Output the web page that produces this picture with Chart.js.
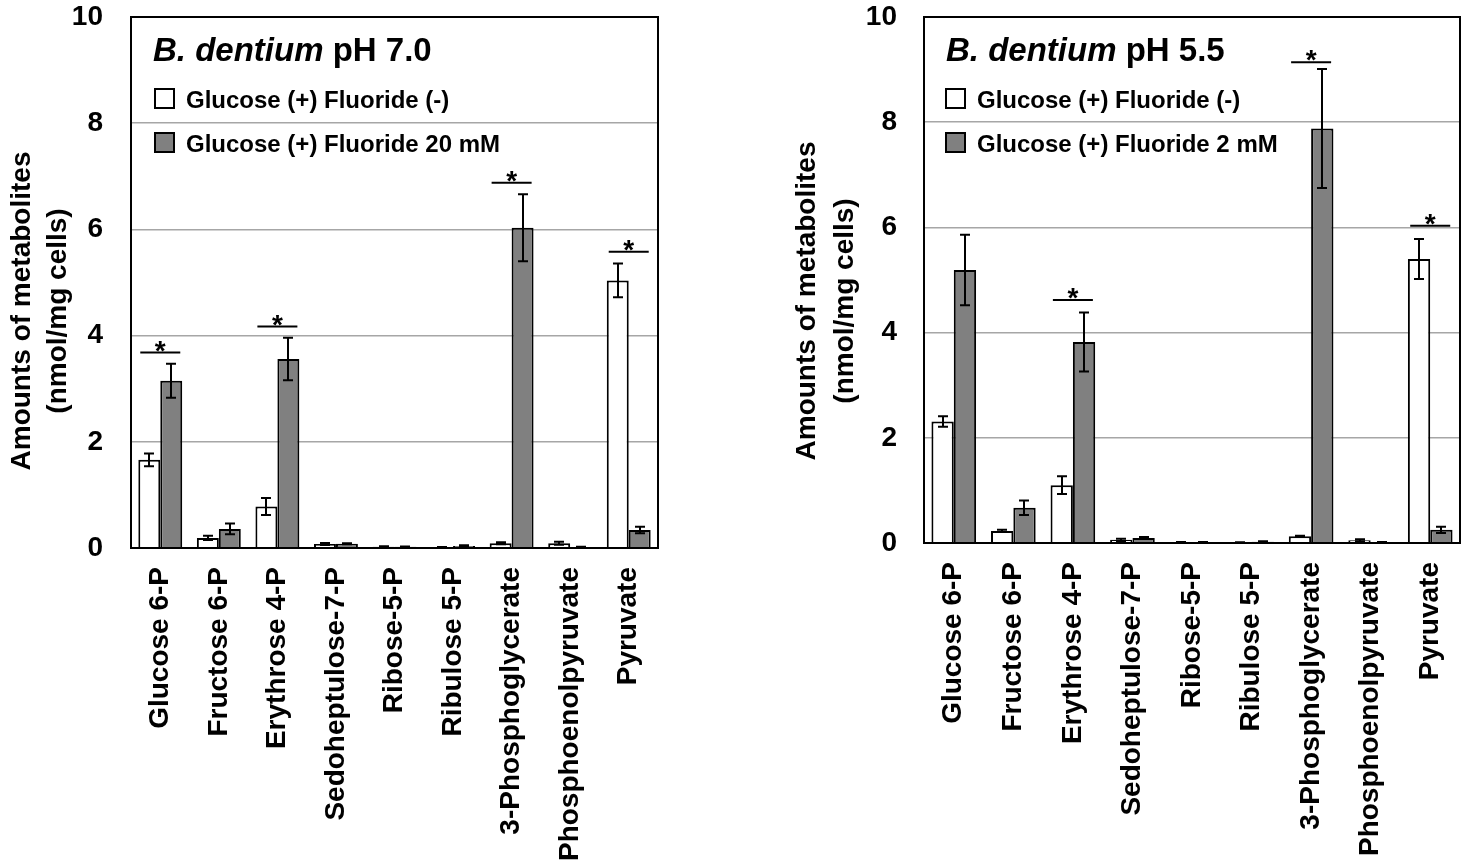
<!DOCTYPE html>
<html>
<head>
<meta charset="utf-8">
<script src="https://cdn.jsdelivr.net/npm/chart.js@4.4.1/dist/chart.umd.min.js"></script>
<style>
  html, body { margin:0; padding:0; background:#fff; }
  #wrap { position:relative; width:1472px; height:867px; overflow:hidden; }
  canvas { position:absolute; top:0; }
</style>
</head>
<body>
<div id="wrap">
  <canvas id="c1" width="736" height="867" style="left:0;width:736px;height:867px"></canvas>
  <canvas id="c2" width="736" height="867" style="left:736px;width:736px;height:867px"></canvas>
</div>
<script>
// ---------- data ----------
const categories = ["Glucose 6-P","Fructose 6-P","Erythrose 4-P","Sedoheptulose-7-P","Ribose-5-P","Ribulose 5-P","3-Phosphoglycerate","Phosphoenolpyruvate","Pyruvate"];
const yTicks = [0, 2, 4, 6, 8, 10];
const yAxisTitle = ["Amounts of metabolites", "(nmol/mg cells)"];

// pH 7.0
const ph70Labels = ["Glucose (+) Fluoride (-)", "Glucose (+) Fluoride 20 mM"];
const ph70Control    = [1.66, 0.19, 0.78, 0.075, 0.025, 0.015, 0.09, 0.09, 5.04];
const ph70ControlErr = [0.12, 0.04, 0.16, 0.02, 0.01, 0.005, 0.02, 0.03, 0.32];
const ph70Fluoride    = [3.15, 0.36, 3.56, 0.08, 0.025, 0.04, 6.03, 0.02, 0.34];
const ph70FluorideErr = [0.32, 0.10, 0.40, 0.01, 0.005, 0.01, 0.63, 0.005, 0.06];
const ph70SigIndex = [0, 2, 6, 8];
const ph70SigLevel = [3.68, 4.17, 6.88, 5.58];

// pH 5.5
const ph55Labels = ["Glucose (+) Fluoride (-)", "Glucose (+) Fluoride 2 mM"];
const ph55Control    = [2.31, 0.23, 1.10, 0.06, 0.015, 0.01, 0.13, 0.05, 5.40];
const ph55ControlErr = [0.10, 0.02, 0.17, 0.02, 0.005, 0.005, 0.01, 0.02, 0.38];
const ph55Fluoride    = [5.19, 0.67, 3.82, 0.095, 0.015, 0.025, 7.88, 0.015, 0.25];
const ph55FluorideErr = [0.67, 0.14, 0.56, 0.02, 0.005, 0.01, 1.13, 0.005, 0.06];
const ph55SigIndex = [2, 6, 8];
const ph55SigLevel = [4.62, 9.14, 6.03];

// ---------- drawing ----------
const FONT = '"Liberation Sans", Arial, sans-serif';
const GRAY = '#808080';

function makeDecor(cfg) {
  return {
    id: 'decor_' + cfg.id,
    afterDatasetsDraw(chart) {
      const ctx = chart.ctx, ys = chart.scales.y;
      ctx.save();
      ctx.strokeStyle = '#000';
      ctx.lineWidth = 2;
      chart.data.datasets.forEach((ds, di) => {
        const meta = chart.getDatasetMeta(di);
        meta.data.forEach((bar, i) => {
          const v = ds.data[i], e = ds.errors[i];
          const cx = Math.round(bar.x);
          const yt = ys.getPixelForValue(v + e), yb = ys.getPixelForValue(Math.max(0, v - e));
          ctx.beginPath();
          ctx.moveTo(cx, yt); ctx.lineTo(cx, yb);
          ctx.moveTo(cx - 5, yt); ctx.lineTo(cx + 5, yt);
          ctx.moveTo(cx - 5, yb); ctx.lineTo(cx + 5, yb);
          ctx.stroke();
        });
      });
      ctx.restore();
    },
    afterDraw(chart) {
      const ctx = chart.ctx, a = chart.chartArea, xs = chart.scales.x, ys = chart.scales.y;
      ctx.save();
      // frame
      ctx.strokeStyle = '#000';
      ctx.lineWidth = 2;
      ctx.strokeRect(a.left, a.top, a.right - a.left, a.bottom - a.top);

      // title inside plot
      ctx.fillStyle = '#000';
      ctx.textBaseline = 'alphabetic';
      ctx.textAlign = 'left';
      ctx.font = 'italic bold 33px ' + FONT;
      const t1 = 'B. dentium';
      ctx.fillText(t1, a.left + cfg.titleDx, 61);
      const w1 = ctx.measureText(t1).width;
      ctx.font = 'bold 33px ' + FONT;
      ctx.fillText(' ' + cfg.titleRest, a.left + cfg.titleDx + w1, 61);

      // legend
      const bx = a.left + cfg.legendDx;
      chart.data.datasets.forEach((ds, di) => {
        const by = 89 + di * 44;
        ctx.fillStyle = ds.backgroundColor;
        ctx.fillRect(bx, by, 19, 19);
        ctx.strokeStyle = '#000';
        ctx.lineWidth = 2;
        ctx.strokeRect(bx, by, 19, 19);
        ctx.fillStyle = '#000';
        ctx.font = 'bold 24px ' + FONT;
        ctx.fillText(ds.label, bx + 31, by + 19);
      });

      // significance marks
      ctx.lineWidth = 2;
      ctx.strokeStyle = '#000';
      cfg.sigIndex.forEach((ci, k) => {
        const cx = xs.getPixelForValue(ci);
        const yy = ys.getPixelForValue(cfg.sigLevel[k]);
        ctx.beginPath();
        ctx.moveTo(cx - 20, yy); ctx.lineTo(cx + 20, yy);
        ctx.stroke();
        ctx.font = 'bold 28px ' + FONT;
        ctx.textAlign = 'center';
        ctx.fillText('*', cx, yy + 7);
      });

      // y axis title (two lines, rotated)
      ctx.font = 'bold 28px ' + FONT;
      ctx.textAlign = 'center';
      ctx.textBaseline = 'middle';
      yAxisTitle.forEach((line, li) => {
        ctx.save();
        ctx.translate(cfg.yTitleX[li], cfg.yTitleY);
        ctx.rotate(-Math.PI / 2);
        ctx.fillText(line, 0, 0);
        ctx.restore();
      });
      ctx.restore();
    }
  };
}

function makeChart(canvasId, cfg) {
  const ctx = document.getElementById(canvasId);
  return new Chart(ctx, {
    type: 'bar',
    data: {
      labels: categories,
      datasets: [
        { label: cfg.labels[0], data: cfg.control, errors: cfg.controlErr,
          backgroundColor: '#ffffff', borderColor: '#000', borderWidth: 2,
          barPercentage: 1.0, categoryPercentage: 0.75 },
        { label: cfg.labels[1], data: cfg.fluoride, errors: cfg.fluorideErr,
          backgroundColor: GRAY, borderColor: '#000', borderWidth: 2,
          barPercentage: 1.0, categoryPercentage: 0.75 }
      ]
    },
    options: {
      responsive: false,
      animation: false,
      devicePixelRatio: 1,
      layout: { padding: { top: 17, right: cfg.padRight, left: 0, bottom: 0 } },
      plugins: { legend: { display: false }, title: { display: false }, tooltip: { enabled: false } },
      scales: {
        x: {
          grid: { display: false },
          border: { display: false },
          ticks: {
            autoSkip: false, maxRotation: 90, minRotation: 90,
            color: '#000', padding: 11,
            font: { family: FONT, size: 28, weight: 'bold' }
          },
          afterFit(scale) { scale.height = cfg.xHeight; scale.paddingLeft = 0; scale.paddingRight = 0; }
        },
        y: {
          min: 0, max: 10,
          afterBuildTicks(scale) { scale.ticks = yTicks.map(v => ({ value: v })); },
          grid: {
            drawTicks: false,
            lineWidth: 1.5,
            color: (c) => (c.tick && (c.tick.value === 0 || c.tick.value === 10)) ? 'rgba(0,0,0,0)' : '#a6a6a6'
          },
          border: { display: false },
          ticks: {
            color: '#000', padding: cfg.tickPad,
            font: { family: FONT, size: 28, weight: 'bold' }
          },
          afterFit(scale) { scale.width = cfg.yWidth; scale.paddingTop = 0; scale.paddingBottom = 0; }
        }
      }
    },
    plugins: [makeDecor(cfg)]
  });
}

makeChart('c1', {
  id: 'ph70', labels: ph70Labels,
  control: ph70Control, controlErr: ph70ControlErr,
  fluoride: ph70Fluoride, fluorideErr: ph70FluorideErr,
  sigIndex: ph70SigIndex, sigLevel: ph70SigLevel,
  titleRest: 'pH 7.0',
  padRight: 78, yWidth: 131, xHeight: 319, tickPad: 28,
  titleDx: 22, legendDx: 24,
  yTitleX: [22, 58], yTitleY: 311
});

makeChart('c2', {
  id: 'ph55', labels: ph55Labels,
  control: ph55Control, controlErr: ph55ControlErr,
  fluoride: ph55Fluoride, fluorideErr: ph55FluorideErr,
  sigIndex: ph55SigIndex, sigLevel: ph55SigLevel,
  titleRest: 'pH 5.5',
  padRight: 12, yWidth: 188, xHeight: 324, tickPad: 27,
  titleDx: 22, legendDx: 22,
  yTitleX: [71, 109], yTitleY: 301
});
</script>
</body>
</html>
